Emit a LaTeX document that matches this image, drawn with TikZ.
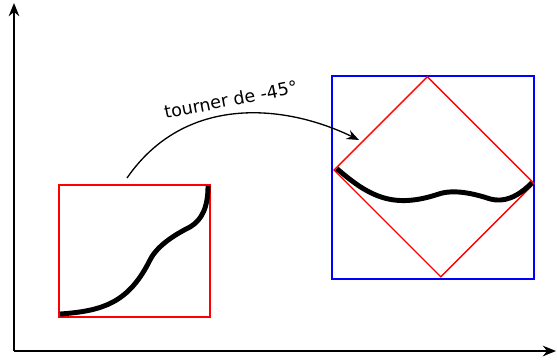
\documentclass[tikz,border=0pt]{standalone}
\usepackage{fontspec}
\setmainfont{DejaVu Sans}
\usetikzlibrary{arrows.meta, positioning}
\def\boxw{151}
\def\boxh{132}
% the curve, drawn in the frame of its box
\newcommand{\courbe}{%
    \draw[curve] (1,3) .. controls (45,6) and (70,15) .. (91,57)
        .. controls (98,71) and (115,82) .. (131,90)
        .. controls (143,97) and (149,110) .. (149,131);}

\begin{document}
\begin{tikzpicture}[x=0.02cm, y=0.02cm]
    \tikzstyle{axis}=[line width=1.2pt, -{Stealth[length=7.5pt, width=6pt]}]
    \tikzstyle{red box}=[draw=red, line width=0.8pt]
    \tikzstyle{blue box}=[draw=blue, line width=0.8pt]
    \tikzstyle{curve}=[line width=2.8pt, black]
    \tikzstyle{rotation arrow}=[line width=0.75pt, -{Stealth[length=7pt, width=5.5pt]}]

    \useasboundingbox (0,0) rectangle (557,359);

    % Draw the axes
    \coordinate (origin) at (14,8);
    \coordinate (x end) at (556,8);
    \coordinate (y end) at (14,356);
    \draw[axis] (origin) -- (x end);
    \draw[axis] (origin) -- (y end);

    % Draw the box before the rotation
    \begin{scope}[shift={(59,42)}]
        \draw[red box] (0,0) rectangle (\boxw,\boxh);
        \courbe
    \end{scope}

    % Draw the box after the rotation
    \draw[blue box] (332,80) rectangle (534,283);
    \begin{scope}[shift={(334,189)}, rotate=-45]
        \draw[red box] (0,0) rectangle (\boxw,\boxh);
        \courbe
    \end{scope}

    % Connect the two boxes
    \coordinate (from) at (127,181);
    \coordinate (to) at (359,219);
    \draw[rotation arrow] (from) .. controls (185,265) and (285,255) .. (to);
    \node[rotate=11, anchor=base, inner sep=0pt] (rot label) at (232,253) {tourner de -45°};

\end{tikzpicture}
\end{document}
